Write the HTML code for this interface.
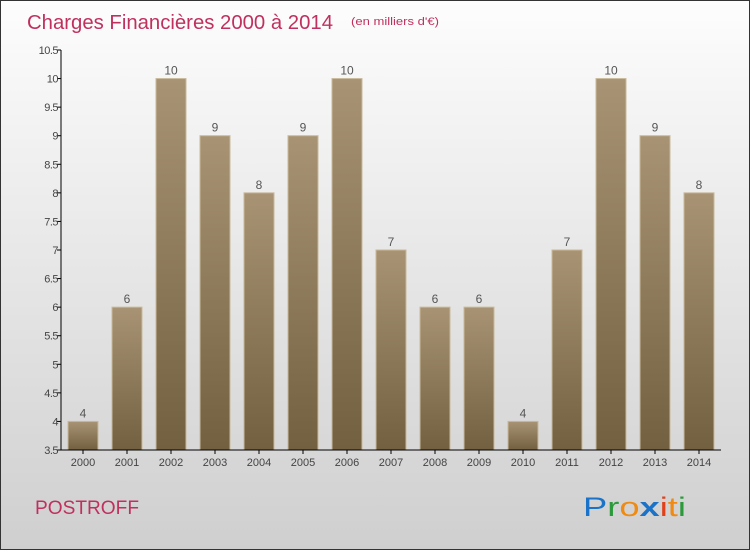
<!DOCTYPE html>
<html><head><meta charset="utf-8"><style>
body{margin:0;}
#wrap{width:748px;height:548px;border:1px solid #333;background:linear-gradient(#fdfdfd,#cfcfcf);position:relative;font-family:"Liberation Sans",sans-serif;overflow:hidden}
</style></head><body>
<div id="wrap">
<svg id="svg" width="748" height="548">
<defs><linearGradient id="bg" x1="0" y1="0" x2="0" y2="1"><stop offset="0" stop-color="#a89474"/><stop offset="1" stop-color="#726040"/></linearGradient></defs>
<text x="26" y="28" font-size="20" fill="#c0305e" textLength="306" lengthAdjust="spacingAndGlyphs">Charges Financières 2000 à 2014</text>
<text x="350" y="24" font-size="11" fill="#c0305e" textLength="88" lengthAdjust="spacingAndGlyphs">(en milliers d'€)</text>
<text x="34" y="513" font-size="19" fill="#c0305e" textLength="104" lengthAdjust="spacingAndGlyphs">POSTROFF</text>
<g font-size="27" font-family="'Liberation Sans',sans-serif">
<text x="582" y="515" textLength="103" lengthAdjust="spacingAndGlyphs"><tspan fill="#1a73c8">P</tspan><tspan fill="#2a9a3a">r</tspan><tspan fill="#f08a10">o</tspan><tspan fill="#1a73c8" font-weight="bold">x</tspan><tspan fill="#e0401a">i</tspan><tspan fill="#f08a10">t</tspan><tspan fill="#2a9a3a">i</tspan></text></g>
<g id="plot"></g>
</svg></div>
<script>
const categories=["2000","2001","2002","2003","2004","2005","2006","2007","2008","2009","2010","2011","2012","2013","2014"];
const values=[4,6,10,9,8,9,10,7,6,6,4,7,10,9,8];
const yTicks=[3.5,4,4.5,5,5.5,6,6.5,7,7.5,8,8.5,9,9.5,10,10.5];
const x0=60,x1=720,yb=449,yt=49,ymin=3.5,ymax=10.5;
const ys=v=>yb-(v-ymin)/(ymax-ymin)*(yb-yt);
const step=(x1-x0)/categories.length;
const xs=i=>x0+step*(i+0.5);
const g=document.getElementById('plot');
const NS='http://www.w3.org/2000/svg';
function mk(t,a){const e=document.createElementNS(NS,t);for(const k in a)e.setAttribute(k,a[k]);g.appendChild(e);return e;}
values.forEach((v,i)=>{
 const r=mk('rect',{x:xs(i)-15,y:ys(v),width:30,height:yb-ys(v),fill:'url(#bg)',stroke:'#c8b89a','stroke-width':1});
 
 
 const t=mk('text',{x:xs(i),y:ys(v)-4,'font-size':12,fill:'#555','text-anchor':'middle'});t.textContent=v;
 
 
 const c=mk('text',{x:xs(i),y:yb+16,'font-size':11,fill:'#444','text-anchor':'middle'});c.textContent=categories[i];
 
 
 mk('line',{x1:xs(i),x2:xs(i),y1:yb,y2:yb+4,stroke:'#000'});
});
yTicks.forEach(v=>{
 mk('line',{x1:x0-4,x2:x0,y1:ys(v),y2:ys(v),stroke:'#000'});
 const t=mk('text',{x:x0-3,y:ys(v)+4,'font-size':11,fill:'#444','text-anchor':'end','letter-spacing':'-0.5'});t.textContent=v;
 
 
});
const ya=mk('line',{x1:x0,x2:x0,y1:yt,y2:yb,stroke:'#000'});


const xa=mk('line',{x1:x0,x2:x1,y1:yb,y2:yb,stroke:'#000'});


</script>
</body></html>
